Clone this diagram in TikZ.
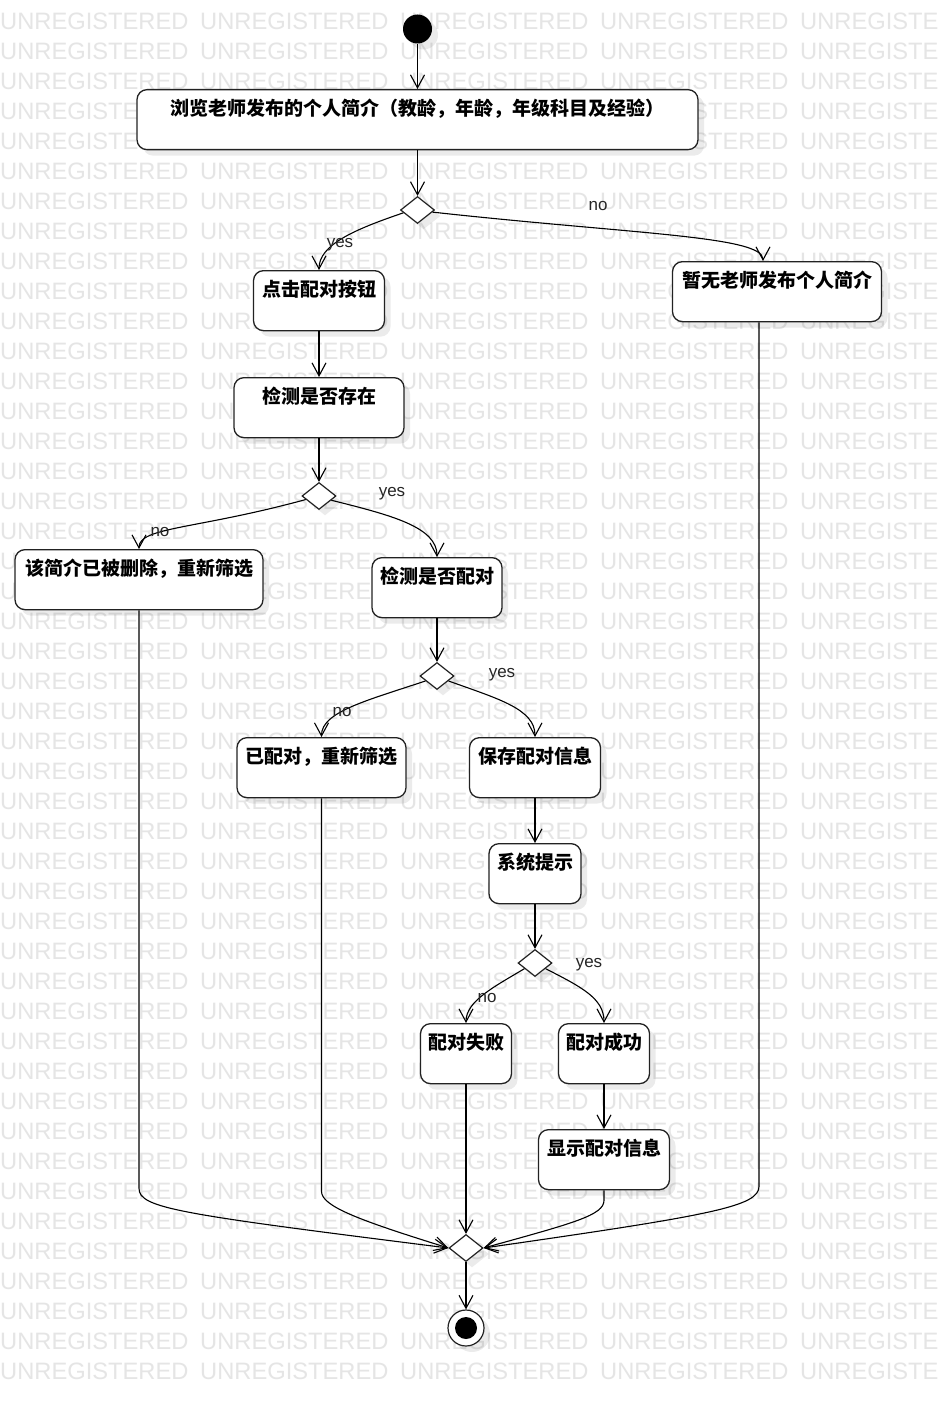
\documentclass[tikz,border=0pt]{standalone}
\usepackage{fontspec}
\setmainfont{Liberation Sans}
\newfontfamily\cjk{Noto Sans CJK SC}
\usetikzlibrary{arrows.meta,shapes.geometric,shadows,calc}
\definecolor{wmc}{HTML}{E5E5E5}
\definecolor{edgec}{HTML}{222222}
\tikzset{
  shad/.style={drop shadow={shadow xshift=6pt,shadow yshift=-6pt,fill=black,opacity=0.08}},
  actbox/.style={shad, rounded corners=10pt, draw=edgec, line width=1.3pt, fill=white,
    minimum height=60pt, text height=26pt, text depth=34pt, inner ysep=0pt, inner xsep=0pt,
    anchor=north, font=\cjk\bfseries\fontsize{19}{22}\selectfont},
  dec/.style={shad, diamond, draw=edgec, line width=1.2pt, fill=white, minimum width=34pt,
    minimum height=27pt, inner sep=0pt},
  initn/.style={shad, circle, fill=black, minimum size=29pt, inner sep=0pt},
  finaln/.style={shad, circle, draw=edgec, line width=1.2pt, fill=white, minimum size=36pt, inner sep=0pt},
  finin/.style={circle, fill=black, minimum size=22pt, inner sep=0pt},
  arr/.style={draw=black, line width=1.1pt, -{Straight Barb[length=13pt,width=14pt,line width=1.1pt]}},
  lbl/.style={font=\fontsize{17}{17}\selectfont, text=black!85, inner sep=0pt},
  wm/.style={font=\fontsize{23.7}{24}\selectfont, text=wmc, inner sep=0pt, anchor=base west}
}
\begin{document}
\begin{tikzpicture}[x=1pt,y=-1pt]
\useasboundingbox (0,0) rectangle (940,1407);
\fill[white] (0,0) rectangle (940,1407);
\foreach \r in {0,...,45}{
  \foreach \c in {0,...,3}{
    \node[wm] (wm-\r-\c) at ({200*\c},{29.5+30*\r}) {UNREGISTERED};}
  \node[wm] (wm-\r-4) at (800,{29.5+30*\r}) {UNREGISTE};}

% nodes
\node[initn] (init) at (417.5,29) {};
\node[actbox, minimum width=561pt] (b1) at (417.5,89) {浏览老师发布的个人简介（教龄，年龄，年级科目及经验）};
\node[dec] (d1) at (417.5,210) {};
\node[actbox, minimum width=131pt] (b2) at (319,270) {点击配对按钮};
\node[actbox, minimum width=209pt] (b3) at (777,261) {暂无老师发布个人简介};
\node[actbox, minimum width=170pt] (b4) at (319,377) {检测是否存在};
\node[dec] (d2) at (319,496) {};
\node[actbox, minimum width=248pt] (b5) at (139,549) {该简介已被删除，重新筛选};
\node[actbox, minimum width=130pt] (b6) at (437,557) {检测是否配对};
\node[dec] (d3) at (437,676) {};
\node[actbox, minimum width=169pt] (b7) at (321.5,737) {已配对，重新筛选};
\node[actbox, minimum width=131pt] (b8) at (535,737) {保存配对信息};
\node[actbox, minimum width=92pt] (b9) at (535,843) {系统提示};
\node[dec] (d4) at (535,963) {};
\node[actbox, minimum width=91pt] (b10) at (466,1023) {配对失败};
\node[actbox, minimum width=91pt] (b11) at (604,1023) {配对成功};
\node[actbox, minimum width=131pt] (b12) at (604,1129) {显示配对信息};
\node[dec] (d5) at (466,1248) {};
\node[finaln] (fin) at (466,1328) {};
\node[finin] (finin) at (fin.center) {};

% straight connectors
\draw[arr] (init) -- (b1);
\draw[arr] (b1) -- (d1);
\draw[arr] (b2) -- (b4);
\draw[arr] (b4) -- (d2);
\draw[arr] (b6) -- (d3);
\draw[arr] (b8) -- (b9);
\draw[arr] (b9) -- (d4);
\draw[arr] (b11) -- (b12);
\draw[arr] (b10) -- (d5);
\draw[arr] (d5) -- (fin);

% branch connectors
\draw[arr] ($(d1.west)!0.2!(d1.south)$) .. controls +(-50,17) and +(0,-25) .. (b2.north);
\draw[arr] ($(d1.east)!0.15!(d1.south)$) .. controls +(200,22) and +(0,-25) .. ($(b3.north)+(-14,0)$);
\draw[arr] ($(d2.west)!0.25!(d2.south)$) .. controls +(-110,30) and +(0,-22) .. (b5.north);
\draw[arr] ($(d2.east)!0.3!(d2.south)$) .. controls +(60,15) and +(0,-30) .. (b6.north);
\draw[arr] ($(d3.west)!0.35!(d3.south)$) .. controls +(-60,20) and +(0,-25) .. (b7.north);
\draw[arr] ($(d3.east)!0.35!(d3.south)$) .. controls +(50,18) and +(0,-28) .. (b8.north);
\draw[arr] ($(d4.west)!0.4!(d4.south)$) .. controls +(-30,18) and +(0,-22) .. (b10.north);
\draw[arr] ($(d4.east)!0.4!(d4.south)$) .. controls +(35,18) and +(0,-25) .. (b11.north);

% merge connectors
\draw[arr] (b5.south) -- ++(0,578) .. controls +(0,20) and +(-270,-34) .. (d5.west);
\draw[arr] (b7.south) -- ++(0,393) .. controls +(0,15) and +(-90,-28) .. (d5.west);
\draw[arr] (b12.south) -- ++(0,10) .. controls +(0,15) and +(90,-25) .. (d5.east);
\draw[arr] ($(b3.south)+(-18,0)$) -- ++(0,864) .. controls +(0,20) and +(230,-33) .. (d5.east);

% labels
\node[lbl] (l1) at (340,245) {yes};
\node[lbl] (l2) at (598,206) {no};
\node[lbl] (l3) at (160,532) {no};
\node[lbl] (l4) at (392,494) {yes};
\node[lbl] (l5) at (342,712) {no};
\node[lbl] (l6) at (502,675) {yes};
\node[lbl] (l7) at (487,998) {no};
\node[lbl] (l8) at (589,965) {yes};
\end{tikzpicture}
\end{document}
